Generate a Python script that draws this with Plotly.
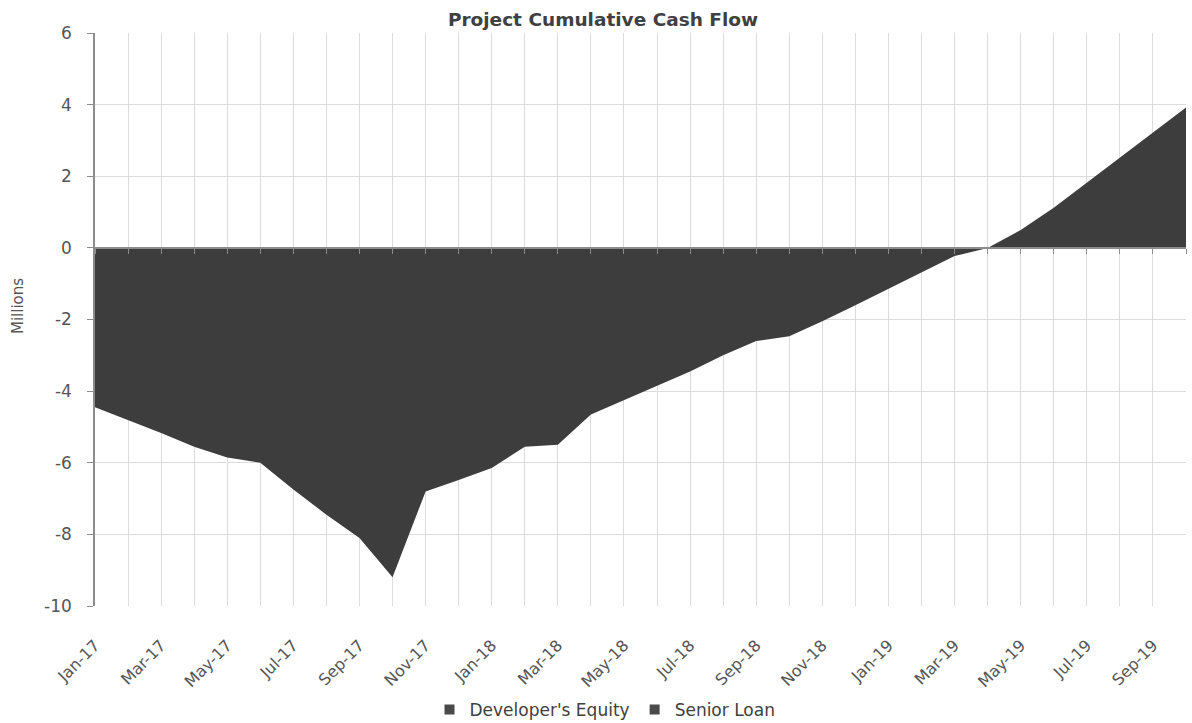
import plotly.graph_objects as go

# Monthly periods and cumulative project cash flow (millions)
months = ["Jan-17", "Feb-17", "Mar-17", "Apr-17", "May-17", "Jun-17", "Jul-17", "Aug-17",
          "Sep-17", "Oct-17", "Nov-17", "Dec-17", "Jan-18", "Feb-18", "Mar-18", "Apr-18",
          "May-18", "Jun-18", "Jul-18", "Aug-18", "Sep-18", "Oct-18", "Nov-18", "Dec-18",
          "Jan-19", "Feb-19", "Mar-19", "Apr-19", "May-19", "Jun-19", "Jul-19", "Aug-19",
          "Sep-19", "Oct-19"]
cumulative_cash = [-4.45, -4.8, -5.17, -5.55, -5.85, -6.0, -6.75, -7.45,
                   -8.1, -9.2, -6.8, -6.48, -6.15, -5.55, -5.5, -4.65,
                   -4.25, -3.87, -3.45, -3.0, -2.6, -2.47, -2.05, -1.6,
                   -1.14, -0.68, -0.23, 0.0, 0.5, 1.12, 1.82, 2.52,
                   3.22, 3.92]
series_names = ["Developer's Equity", "Senior Loan"]
y_ticks = [6, 4, 2, 0, -2, -4, -6, -8, -10]

x_idx = list(range(len(months)))
fill_color = "#3d3d3d"
grid_color = "#dcdcdc"
axis_color = "#8c8c8c"
text_color = "#555555"
font_family = "DejaVu Sans, Verdana, sans-serif"

fig = go.Figure()

fig.add_trace(go.Scatter(
    x=x_idx, y=cumulative_cash,
    mode="lines", line=dict(width=0, color=fill_color),
    fill="tozeroy", fillcolor=fill_color,
    showlegend=False, hoverinfo="x+y",
))

# Legend entries with square swatches
for name in series_names:
    fig.add_trace(go.Scatter(
        x=[None], y=[None], mode="markers", name=name,
        marker=dict(symbol="square", size=10, color="#4a4a4a"),
    ))

y_min, y_max = -10, 6
zero_pos = (0 - y_min) / (y_max - y_min)

fig.update_layout(
    width=1192, height=723,
    margin=dict(l=95, r=6, t=33, b=117, autoexpand=False),
    paper_bgcolor="white", plot_bgcolor="white",
    font=dict(family=font_family, color=text_color),
    title=dict(text="<b>Project Cumulative Cash Flow</b>", x=603 / 1192, xanchor="center",
               y=1 - 20 / 723, yanchor="middle",
               font=dict(size=18.5, color="#404040", family=font_family)),
    xaxis=dict(
        range=[0, len(months) - 1],
        tickmode="array", tickvals=x_idx[::2], ticktext=months[::2],
        tickangle=-45, tickfont=dict(size=16, color=text_color),
        ticklabelstandoff=26,
        showgrid=True, gridcolor=grid_color, gridwidth=1,
        minor=dict(dtick=1, tick0=0, showgrid=True, gridcolor=grid_color, gridwidth=1),
        showline=False, zeroline=False, ticks="", automargin=False,
    ),
    xaxis2=dict(
        overlaying="x", anchor="free", position=zero_pos,
        range=[0, len(months) - 1], tickmode="linear", tick0=0, dtick=1,
        showticklabels=False, showgrid=False, zeroline=False,
        showline=True, linecolor=axis_color, linewidth=1.5,
        ticks="outside", ticklen=5, tickcolor=axis_color,
    ),
    yaxis=dict(
        range=[y_min, y_max], tickmode="array", tickvals=y_ticks,
        ticktext=[str(v) for v in y_ticks],
        tickfont=dict(size=17, color=text_color),
        ticklabelstandoff=12,
        showgrid=True, gridcolor=grid_color, gridwidth=1,
        zeroline=False, showline=True, linecolor=axis_color, linewidth=1.5,
        ticks="outside", ticklen=6, tickcolor=axis_color, automargin=False,
    ),
    legend=dict(
        orientation="h", x=605 / 1192, xref="container", xanchor="center",
        y=1 - 710 / 723, yref="container", yanchor="middle",
        font=dict(size=17, color="#404040"), itemwidth=30,
        bgcolor="rgba(0,0,0,0)", tracegroupgap=0,
    ),
    annotations=[dict(
        text="Millions", textangle=-90, showarrow=False,
        xref="paper", x=-(95 - 18) / 1091, xanchor="center",
        yref="paper", y=(606 - 306) / 573, yanchor="middle",
        font=dict(size=15, color=text_color, family=font_family),
    )],
)

# Zero-line axis with monthly tick marks
fig.add_trace(go.Scatter(x=[0], y=[0], xaxis="x2", mode="markers",
                         marker=dict(opacity=0), showlegend=False, hoverinfo="skip"))

fig.write_html("out.html")
